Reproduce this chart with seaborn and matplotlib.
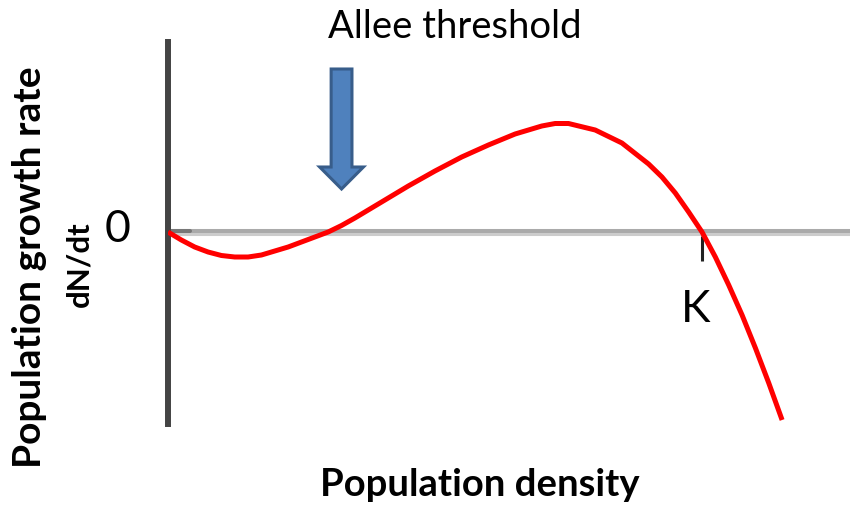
import matplotlib
matplotlib.use("Agg")
import matplotlib.pyplot as plt
import seaborn as sns
import pandas as pd
from matplotlib.patches import FancyArrow

# --- data (arbitrary units) ---
density = [0, 2.5, 5, 7.5, 10, 12.5, 15, 17.5, 20, 22.5, 25, 27.5, 30,
           32.5, 35, 37.5, 40, 45, 50, 55, 60, 65, 70, 72.5, 75, 80, 85,
           90, 92.5, 95, 97.5, 100, 102.5, 105, 107.5, 110, 112.5, 115]
growth = [0, -0.8, -1.5, -2.0, -2.35, -2.5, -2.5, -2.3, -1.9, -1.5, -1.0,
          -0.5, 0.0, 0.65, 1.4, 2.2, 3.0, 4.6, 6.1, 7.5, 8.7, 9.8, 10.6,
          10.85, 10.85, 10.2, 8.9, 6.8, 5.5, 3.9, 2.0, 0.0, -2.5, -5.3,
          -8.3, -11.6, -15.1, -18.8]
allee_threshold = 32.5
carrying_capacity = 100.0

df = pd.DataFrame({"density": density, "growth": growth})

sns.set_style("white")
plt.rcParams["font.family"] = ["Lato", "DejaVu Sans"]

W, H = 850, 509
fig = plt.figure(figsize=(W / 100, H / 100), dpi=100)
ax = fig.add_axes([168 / W, 1 - 424 / H, 1 - 168 / W, (424 - 42) / H])

# zero line (two-tone grey) with darker start near the axis
ax.axhline(0.15, color="#aaaaaa", lw=2.9, zorder=1)
ax.axhline(-0.2, color="#cccccc", lw=2.2, zorder=1)
ax.axhline(0.15, xmax=22 / 682, color="#777777", lw=2.9, zorder=1.5)

sns.lineplot(data=df, x="density", y="growth", ax=ax, color="#ff0000",
             lw=3.6, zorder=3, estimator=None, sort=False,
             solid_joinstyle="round", solid_capstyle="butt")

# small tick below K
ax.vlines(carrying_capacity, -0.4, -2.9, color="#222222", lw=2.2, zorder=2)

# Allee threshold arrow
arrow = FancyArrow(allee_threshold, 16.3, 0, -12.0, width=3.9,
                   head_width=8.2, head_length=2.2, length_includes_head=True,
                   facecolor="#4f81bd", edgecolor="#385d8a", lw=2.2, zorder=4)
ax.add_patch(arrow)

ax.set_xlim(0, (W - 168) / 5.34)
ax.set_ylim(-19.2, 19.0)
ax.set_xticks([])
ax.set_yticks([])
ax.set_xlabel("")
ax.set_ylabel("")
for s in ["top", "right", "bottom"]:
    ax.spines[s].set_visible(False)
ax.spines["left"].set_color("#444444")
ax.spines["left"].set_linewidth(4.3)

# texts
fig.text(455 / W, 1 - 27 / H, "Allee threshold", fontsize=27.5,
         ha="center", va="center", color="black")
fig.text(480 / W, 1 - 485 / H, "Population density", fontsize=27.5,
         fontweight="bold", ha="center", va="center", color="black")
fig.text(30 / W, 1 - 267 / H, "Population growth rate", fontsize=28,
         fontweight="bold", rotation=90, ha="center", va="center", color="black")
fig.text(79 / W, 1 - 264 / H, "dN/dt", fontsize=22.5,
         fontweight="bold", rotation=90, ha="center", va="center", color="black")
fig.text(118 / W, 1 - 229 / H, "0", fontsize=32, ha="center", va="center",
         color="black")
fig.text(696 / W, 1 - 310 / H, "K", fontsize=32, ha="center", va="center",
         color="black")

fig.savefig("out.png", dpi=100)
